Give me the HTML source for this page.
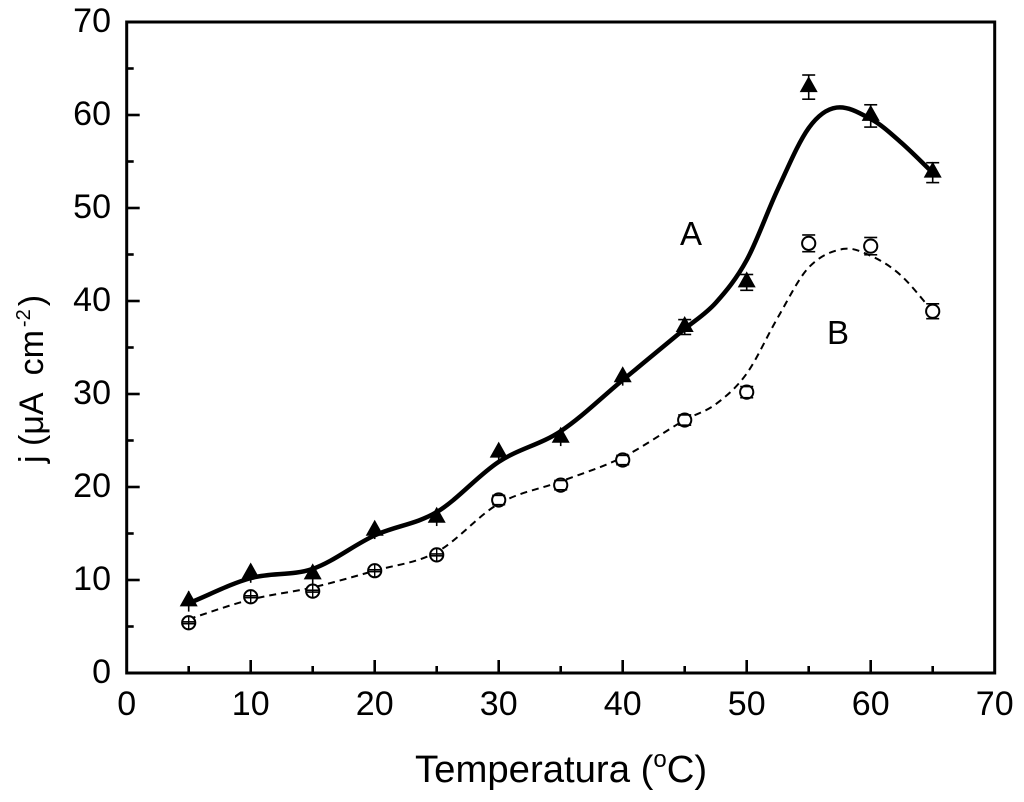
<!DOCTYPE html>
<html lang="pt">
<head>
<meta charset="utf-8">
<title>Temperatura chart</title>
<style>
html,body{margin:0;padding:0;background:#fff;width:1024px;height:802px;overflow:hidden}
svg{display:block;font-family:"Liberation Sans",sans-serif;fill:#000;filter:blur(0.35px)}
</style>
</head>
<body>
<svg id="chart" width="1024" height="802" viewBox="0 0 1024 802" xmlns="http://www.w3.org/2000/svg">
  <rect x="0" y="0" width="1024" height="802" fill="#fff"/>
  <text x="415" y="782" font-size="38.3">Temperatura (<tspan dy="-15" font-size="24">o</tspan><tspan dy="15">C)</tspan></text>
  <text transform="translate(43,463) rotate(-90)" font-size="34" style="white-space:pre">j (μA  cm<tspan dx="3" dy="-13" font-size="20">-2</tspan><tspan dx="3" dy="13">)</tspan></text>
  <text x="680" y="245" font-size="33">A</text>
  <text x="827" y="344" font-size="33">B</text>
</svg>
<script>
const temperatures = [5, 10, 15, 20, 25, 30, 35, 40, 45, 50, 55, 60, 65];
const seriesA = [7.7, 10.7, 10.6, 15.3, 16.7, 23.7, 25.3, 31.8, 37.2, 42, 63, 59.9, 53.8];
const errorA = [1.1, 1.0, 1.0, 0.9, 0.9, 0.8, 0.9, 0.9, 0.8, 0.85, 1.3, 1.2, 1.07];
const seriesB = [5.4, 8.2, 8.8, 11, 12.7, 18.6, 20.2, 22.9, 27.2, 30.2, 46.2, 45.9, 38.9];
const errorB = [0.1, 0.1, 0.1, 0.1, 0.1, 0.5, 0.5, 0.5, 0.55, 0.6, 0.9, 0.93, 0.8];
const curveAX = [5, 10, 15, 20, 25, 30, 35, 40, 45, 47.5, 50, 52.5, 55, 57.25, 60.1, 62.4, 65];
const curveAY = [7.5, 10.2, 11.2, 14.8, 17.3, 22.7, 26, 31.5, 37, 39.8, 44.4, 52, 58.6, 60.8, 59.5, 57.1, 53.8];
const curveBX = [5, 10, 15, 20, 25, 30, 35, 40, 45, 47.5, 50, 52.5, 55, 57.8, 60.1, 62.4, 65];
const curveBY = [5.8, 7.9, 9.2, 11, 13, 18.2, 20.6, 23.2, 27.2, 28.9, 32.2, 38.2, 43.6, 45.6, 44.8, 42.8, 38.9];
const xTickLabels = [0, 10, 20, 30, 40, 50, 60, 70];
const yTickLabels = [0, 10, 20, 30, 40, 50, 60, 70];
const xMinorTicks = [5, 15, 25, 35, 45, 55, 65];
const yMinorTicks = [5, 15, 25, 35, 45, 55, 65];

const NS = 'http://www.w3.org/2000/svg';
const svg = document.getElementById('chart');
const xPos = v => 126.7 + v * 12.4;
const yPos = v => 673 - v * 9.3;

function make(tag, attrs, parent) {
  const el = document.createElementNS(NS, tag);
  for (const k in attrs) el.setAttribute(k, attrs[k]);
  (parent || svg).appendChild(el);
  return el;
}

function splinePath(xs, ys) {
  const p = xs.map((x, i) => [xPos(x), yPos(ys[i])]);
  const n = p.length;
  const m = p.map((_, i) => {
    const a = p[Math.max(i - 1, 0)], b = p[Math.min(i + 1, n - 1)];
    return (b[1] - a[1]) / (b[0] - a[0]);
  });
  let d = 'M' + p[0][0] + ' ' + p[0][1];
  for (let i = 0; i < n - 1; i++) {
    const b = p[i], c = p[i + 1], h = (c[0] - b[0]) / 3;
    d += 'C' + (b[0] + h) + ' ' + (b[1] + m[i] * h) + ' ' + (c[0] - h) + ' ' + (c[1] - m[i + 1] * h) + ' ' + c[0] + ' ' + c[1];
  }
  return d;
}

/* frame */
const frame = make('rect', {x: xPos(0), y: yPos(70), width: xPos(70) - xPos(0), height: yPos(0) - yPos(70), fill: 'none', stroke: '#000', 'stroke-width': 3});



/* ticks and tick labels */
xTickLabels.forEach(v => {
  if (v > 0 && v < 70) {
    const t = make('line', {x1: xPos(v), x2: xPos(v), y1: yPos(0), y2: yPos(0) - 13, stroke: '#000', 'stroke-width': 2.6});
    
    
  }
  const l = make('text', {x: xPos(v), y: 715, 'font-size': 34, 'text-anchor': 'middle'});
  l.textContent = v;
  
  
});
xMinorTicks.forEach(v => {
  const t = make('line', {x1: xPos(v), x2: xPos(v), y1: yPos(0), y2: yPos(0) - 7, stroke: '#000', 'stroke-width': 2.6});
  
  
});
yTickLabels.forEach(v => {
  if (v > 0 && v < 70) {
    const t = make('line', {x1: xPos(0), x2: xPos(0) + 13, y1: yPos(v), y2: yPos(v), stroke: '#000', 'stroke-width': 2.6});
    
    
  }
  const l = make('text', {x: 111, y: yPos(v) + 10, 'font-size': 34, 'text-anchor': 'end'});
  l.textContent = v;
  
  
});
yMinorTicks.forEach(v => {
  const t = make('line', {x1: xPos(0), x2: xPos(0) + 7, y1: yPos(v), y2: yPos(v), stroke: '#000', 'stroke-width': 2.6});
  
  
});

/* fitted curves */
const lineB = make('path', {d: splinePath(curveBX, curveBY), fill: 'none', stroke: '#000', 'stroke-width': 2, 'stroke-dasharray': '7 5'});


const lineA = make('path', {d: splinePath(curveAX, curveAY), fill: 'none', stroke: '#000', 'stroke-width': 4.5});



/* series B: open circles */
temperatures.forEach((t, i) => {
  const cx = xPos(t), cy = yPos(seriesB[i]);
  const top = yPos(seriesB[i] + errorB[i]), bot = yPos(seriesB[i] - errorB[i]);
  const c = make('circle', {cx: cx, cy: cy, r: 6.6, fill: '#fff', stroke: '#000', 'stroke-width': 2});
  
  
  const capA = make('line', {x1: cx - 6.5, x2: cx + 6.5, y1: top, y2: top, stroke: '#000', 'stroke-width': 1.6});
  
  
  const capB = make('line', {x1: cx - 6.5, x2: cx + 6.5, y1: bot, y2: bot, stroke: '#000', 'stroke-width': 1.6});
  
  
  if (t <= 25) {
    const stem = make('line', {x1: cx, x2: cx, y1: cy - 6.6, y2: cy + 6.6, stroke: '#000', 'stroke-width': 1.4});
    
    
  }
});

/* series A: filled triangles */
temperatures.forEach((t, i) => {
  const cx = xPos(t), cy = yPos(seriesA[i]);
  const top = yPos(seriesA[i] + errorA[i]), bot = yPos(seriesA[i] - errorA[i]);
  const stem = make('line', {x1: cx, x2: cx, y1: top, y2: bot, stroke: '#000', 'stroke-width': 1.6});
  
  
  if (t >= 45) {
    const capTop = make('line', {x1: cx - 6.5, x2: cx + 6.5, y1: top, y2: top, stroke: '#000', 'stroke-width': 1.6});
    
    
    const capBot = make('line', {x1: cx - 6.5, x2: cx + 6.5, y1: bot, y2: bot, stroke: '#000', 'stroke-width': 1.6});
    
    
  }
  const m = make('polygon', {points: [cx, cy - 11, cx + 9, cy + 5, cx - 9, cy + 5].join(' '), fill: '#000'});
  
  
});
</script>
</body>
</html>
